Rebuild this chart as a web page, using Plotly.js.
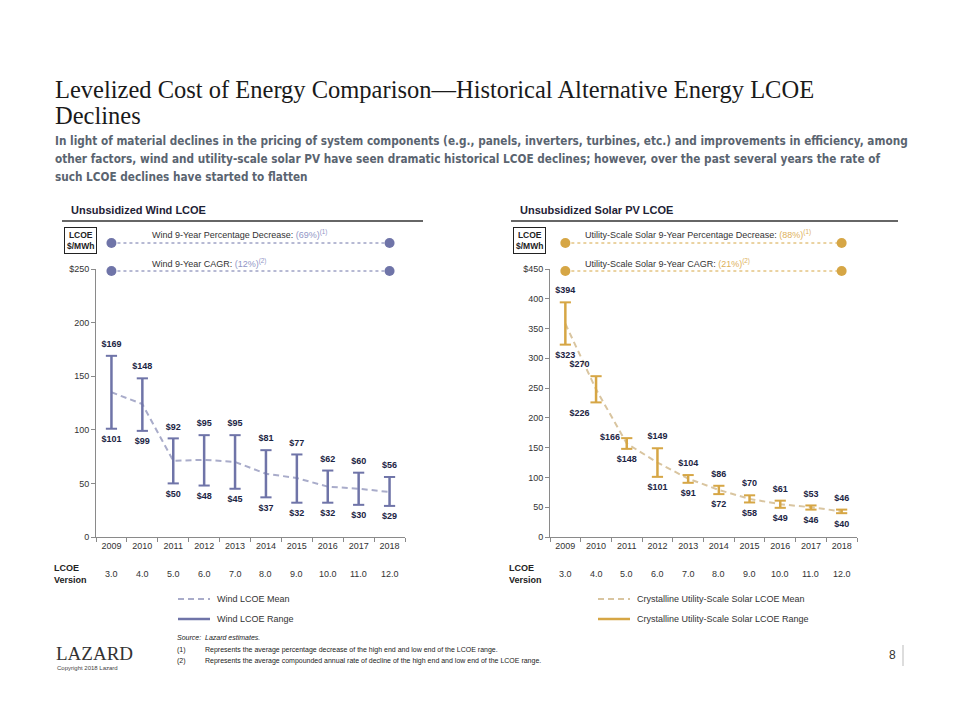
<!DOCTYPE html>
<html>
<head>
<meta charset="utf-8">
<script src="https://cdn.plot.ly/plotly-3.0.1.min.js"></script>
<style>
html,body{margin:0;padding:0;background:#fff;}
#chart{width:960px;height:720px;}
</style>
</head>
<body>
<div id="chart"></div>
<script>
// ---- data ----
const years = ['2009','2010','2011','2012','2013','2014','2015','2016','2017','2018'];
const versions = ['3.0','4.0','5.0','6.0','7.0','8.0','9.0','10.0','11.0','12.0'];
const windHigh = [169,148,92,95,95,81,77,62,60,56];
const windLow  = [101,99,50,48,45,37,32,32,30,29];
const windMean = [135,124,71,72,70,59,55,47,45,42];
const solarHigh = [394,270,166,149,104,86,70,61,53,46];
const solarLow  = [323,226,148,101,91,72,58,49,46,40];
const solarMean = [358,248,157,125,98,79,64,55,50,43];
const windTickVals = [0,50,100,150,200,250];
const windTickText = ['0','50','100','150','200','$250'];
const solarTickVals = [0,50,100,150,200,250,300,350,400,450];
const solarTickText = ['0','50','100','150','200','250','300','350','400','$450'];
const windStats = {pct:'(69%)', cagr:'(12%)'};
const solarStats = {pct:'(88%)', cagr:'(21%)'};

// ---- styles ----
const WIND = '#6f74a8', WIND_MEAN = '#a9acca', WIND_TXT = '#9196c6';
const SOLAR = '#d6a645', SOLAR_MEAN = '#d9c5a0', SOLAR_TXT = '#ddb15a';
const LABEL = '#1c2444';
const SANS = 'Liberation Sans, Arial, sans-serif';
const NARROW = 'Liberation Sans Narrow, Arial Narrow, DejaVu Sans Condensed, sans-serif';
const SERIF = 'Liberation Serif, Times New Roman, serif';

function rangeTraces(high, low, mean, color, meanColor, xa, ya, lowPos, highPos) {
  const x = [], y = [];
  years.forEach((yr, i) => { x.push(yr, yr, null); y.push(low[i], high[i], null); });
  const lbl = (vals, pos) => ({type:'scatter', mode:'markers+text', x: years, y: vals,
     text: vals.map(v => '$' + v), xaxis: xa, yaxis: ya, textposition: pos, cliponaxis:false,
     marker:{size: 9, color:'rgba(0,0,0,0)'},
     textfont:{family: SANS, size: 9, color: LABEL, weight: 'bold'}, hoverinfo:'skip', showlegend:false});
  return [
    {type:'scatter', mode:'lines', x: years, y: mean, xaxis: xa, yaxis: ya,
     line:{color: meanColor, width: 2, dash: '6px,4px'}, hoverinfo:'skip', showlegend:false},
    {type:'scatter', mode:'lines', x, y, xaxis: xa, yaxis: ya, connectgaps:false,
     line:{color, width: 2.5}, hoverinfo:'skip', showlegend:false},
    {type:'scatter', mode:'markers', x: years.concat(years), y: high.concat(low), xaxis: xa, yaxis: ya,
     marker:{symbol:'line-ew', size:8, color, line:{width:2, color}}, hoverinfo:'skip', showlegend:false},
    lbl(high, highPos),
    lbl(low, lowPos)
  ];
}

const solarHighPos = ['top center','top left','middle left','top center','top center','top center','top center','top center','top center','top center'];
const solarLowPos = ['bottom center','bottom left','bottom center','bottom center','bottom center','bottom center','bottom center','bottom center','bottom center','bottom center'];

const data = [].concat(
  rangeTraces(windHigh, windLow, windMean, WIND, WIND_MEAN, 'x', 'y', 'bottom center', 'top center'),
  rangeTraces(solarHigh, solarLow, solarMean, SOLAR, SOLAR_MEAN, 'x2', 'y2', solarLowPos, solarHighPos)
);

const W = 960, H = 720;
const px = v => v / W;
const py = v => (H - v) / H;

const axisCommon = {
  showgrid:false, zeroline:false, showline:true, linecolor:'#8a8a8a', linewidth:1,
  ticks:'outside', ticklen:4, tickcolor:'#8a8a8a',
  tickfont:{family: SANS, size: 9, color:'#333'}, fixedrange:true
};

const layout = {
  width: W, height: H,
  margin:{l:0, r:0, t:0, b:0},
  paper_bgcolor:'#fff', plot_bgcolor:'#fff',
  showlegend:false,
  xaxis: Object.assign({}, axisCommon, {type:'category', categoryarray: years, range:[-0.5, 9.5],
    domain:[px(96), px(405)], anchor:'y', tickson:'boundaries'}),
  yaxis: Object.assign({}, axisCommon, {range:[0, 250], domain:[py(537), py(269)], anchor:'x',
    tickvals: windTickVals, ticktext: windTickText}),
  xaxis2: Object.assign({}, axisCommon, {type:'category', categoryarray: years, range:[-0.5, 9.5],
    domain:[px(550), px(857)], anchor:'y2', tickson:'boundaries'}),
  yaxis2: Object.assign({}, axisCommon, {range:[0, 450], domain:[py(537), py(269)], anchor:'x2',
    tickvals: solarTickVals, ticktext: solarTickText}),
  shapes: [],
  annotations: []
};

const A = layout.annotations, S = layout.shapes;
function txt(text, x, y, size, opts) {
  A.push(Object.assign({text, x: px(x), y: py(y), xref:'paper', yref:'paper', showarrow:false,
    xanchor:'left', yanchor:'middle', align:'left',
    font:{family: SANS, size, color:'#333'}}, opts || {}));
}

// Title and subtitle
txt('Levelized Cost of Energy Comparison\u2014Historical Alternative Energy LCOE', 53, 89, 24.5,
  {font:{family: SERIF, size: 24.5, color:'#1a1a1a'}});
txt('Declines', 53, 116, 24.5, {font:{family: SERIF, size: 24.5, color:'#1a1a1a'}});
const subLines = [
  'In light of material declines in the pricing of system components (e.g., panels, inverters, turbines, etc.) and improvements in efficiency, among',
  'other factors, wind and utility-scale solar PV have seen dramatic historical LCOE declines; however, over the past several years the rate of',
  'such LCOE declines have started to flatten'
];
subLines.forEach((t, i) => txt('<b>' + t + '</b>', 53, 141 + i * 18, 11.7,
  {font:{family: NARROW, size: 11.7, color:'#5a6470'}}));

// Panel decorations
function panel(xa, title, x0, x1, titleX, legendX, meanName, rangeName, color, meanColor, lines, legendName) {
  txt('<b>' + title + '</b>', titleX, 210, 11, {font:{family: SANS, size: 11, color:'#1e2235'}});
  S.push({type:'line', xref:'paper', yref:'paper', x0: px(x0), x1: px(x1), y0: py(221), y1: py(221),
    line:{color:'#333', width:1.3}});
  // LCOE $/MWh box
  A.push({text:'<b>LCOE<br>$/MWh</b>', x: px(titleX + 11), y: py(240), xref:'paper', yref:'paper',
    showarrow:false, xanchor:'center', yanchor:'middle', bordercolor:'#222', borderwidth:1, borderpad:2,
    font:{family: SANS, size: 8.5, color:'#222'}});
  const first = 0, last = years.length - 1;
  // stat lines
  lines.forEach((ln) => {
    const yy = py(ln.y);
    S.push({type:'line', xref: xa, yref:'paper', x0: first, x1: last, y0: yy, y1: yy,
      line:{color, width:1, dash:'dot'}});
    [first, last].forEach(c => {
      S.push({type:'circle', xref: xa, yref:'paper', xsizemode:'pixel', ysizemode:'pixel',
        xanchor: c, yanchor: yy, x0:-5, x1:5, y0:-5, y1:5, fillcolor: color, line:{width:0}});
    });
    txt(ln.text, ln.tx, ln.y - 8.5, 9, {font:{family: SANS, size: 9, color:'#333'}});
  });
  // LCOE version row
  txt('<b>LCOE<br>Version</b>', legendName, 574, 9, {font:{family: SANS, size: 9, color:'#222'}});
  versions.forEach((v, i) => {
    A.push({text: v, x: i, xref: xa, y: py(574), yref:'paper', showarrow:false,
      xanchor:'center', yanchor:'middle', font:{family: SANS, size: 9, color:'#333'}});
  });
  // legend
  S.push({type:'line', xref:'paper', yref:'paper', x0: px(legendX), x1: px(legendX + 32), y0: py(599), y1: py(599),
    line:{color: meanColor, width:2, dash:'6px,4px'}});
  S.push({type:'line', xref:'paper', yref:'paper', x0: px(legendX), x1: px(legendX + 32), y0: py(619), y1: py(619),
    line:{color: color, width:2.5}});
  txt(meanName, legendX + 37, 599, 9, {font:{family: SANS, size: 9, color:'#333'}});
  txt(rangeName, legendX + 37, 619, 9, {font:{family: SANS, size: 9, color:'#333'}});
}

panel('x', 'Unsubsidized Wind LCOE', 62, 423, 69, 178, 'Wind LCOE Mean', 'Wind LCOE Range', WIND, WIND_MEAN, [
  {y: 243, tx: 150, text: 'Wind 9-Year Percentage Decrease: <span style="color:' + WIND_TXT + '">' + windStats.pct + '<sup>(1)</sup></span>'},
  {y: 271, tx: 150, text: 'Wind 9-Year CAGR: <span style="color:' + WIND_TXT + '">' + windStats.cagr + '<sup>(2)</sup></span>'}
], 52);
panel('x2', 'Unsubsidized Solar PV LCOE', 511, 898, 518, 598, 'Crystalline Utility-Scale Solar LCOE Mean',
  'Crystalline Utility-Scale Solar LCOE Range', SOLAR, SOLAR_MEAN, [
  {y: 243, tx: 583, text: 'Utility-Scale Solar 9-Year Percentage Decrease: <span style="color:' + SOLAR_TXT + '">' + solarStats.pct + '<sup>(1)</sup></span>'},
  {y: 271, tx: 583, text: 'Utility-Scale Solar 9-Year CAGR: <span style="color:' + SOLAR_TXT + '">' + solarStats.cagr + '<sup>(2)</sup></span>'}
], 507);

// Footer
txt('LAZARD', 54, 653, 19, {font:{family: SERIF, size: 19, color:'#333'}});
txt('Copyright 2018 Lazard', 55, 668, 6, {font:{family: SANS, size: 6, color:'#444'}});
txt('<i>Source:  Lazard estimates.</i>', 175, 637, 7, {font:{family: SANS, size: 7, color:'#222'}});
txt('(1)', 175, 650, 7, {font:{family: SANS, size: 7, color:'#222'}});
txt('(2)', 175, 661, 7, {font:{family: SANS, size: 7, color:'#222'}});
txt('Represents the average percentage decrease of the high end and low end of the LCOE range.', 203, 650, 7,
  {font:{family: SANS, size: 7, color:'#222'}});
txt('Represents the average compounded annual rate of decline of the high end and low end of the LCOE range.', 203, 661, 7,
  {font:{family: SANS, size: 7, color:'#222'}});
txt('8', 887, 655, 12, {font:{family: SANS, size: 12, color:'#333'}});
S.push({type:'line', xref:'paper', yref:'paper', x0: px(903), x1: px(903), y0: py(645), y1: py(666),
  line:{color:'#bbb', width:1}});

Plotly.newPlot('chart', data, layout, {staticPlot:true, displayModeBar:false});
</script>
</body>
</html>
